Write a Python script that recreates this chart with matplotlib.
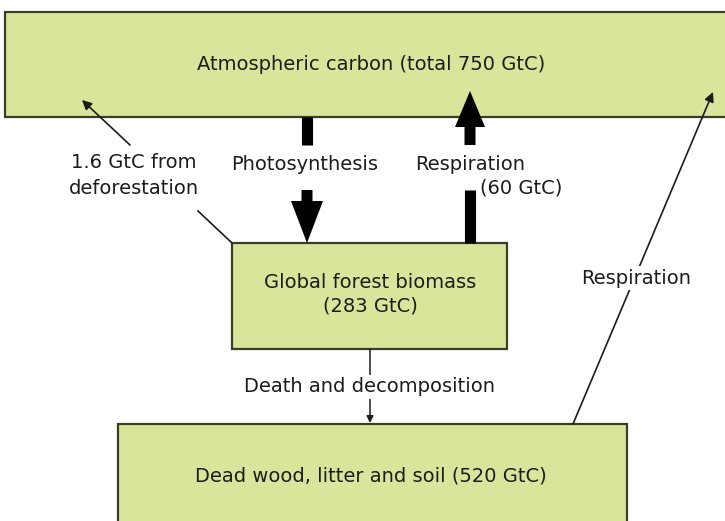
import matplotlib.pyplot as plt
from matplotlib.patches import Rectangle

# Carbon pools and fluxes (GtC)
pool_names = ["Atmospheric carbon", "Global forest biomass", "Dead wood, litter and soil"]
pool_gtc = [750, 283, 520]
flow_names = ["Photosynthesis", "Respiration", "Death and decomposition", "Respiration"]
resp_gtc = 60
deforest_gtc = 1.6

FILL = "#d9e59a"
EDGE = "#3a3d2c"
INK = "#1c1c1c"
FS = 14

plt.rcParams['font.family'] = ['DejaVu Sans']

fig = plt.figure(figsize=(7.25, 5.21), dpi=100)
ax = fig.add_axes([0, 0, 1, 1])
ax.set_xlim(0, 725)
ax.set_ylim(521, 0)
ax.axis('off')

def box(x0, y0, x1, y1):
    ax.add_patch(Rectangle((x0, y0), x1 - x0, y1 - y0, facecolor=FILL,
                           edgecolor=EDGE, lw=1.6, zorder=1))

def label(x, y, s, bg=False, **kw):
    t = ax.text(x, y, s, ha='center', va='center', fontsize=FS, color=INK,
                zorder=5, **kw)
    if bg:
        t.set_bbox(dict(facecolor='white', edgecolor='none', pad=2))
    return t

# boxes
box(5, 12, 740, 117)
box(232, 243, 507, 349)
box(118, 424, 627, 540)

label(371, 65, f"{pool_names[0]} (total {pool_gtc[0]} GtC)")
label(370, 283, pool_names[1])
label(370, 306, f"({pool_gtc[1]} GtC)")
label(371, 476, f"{pool_names[2]} ({pool_gtc[2]} GtC)")

# photosynthesis: thick arrow down, broken by label
px = 307
ax.plot([px, px], [117, 145], color='black', lw=8, solid_capstyle='butt', zorder=3)
ax.arrow(px, 190, 0, 243 - 190, width=11, head_width=32, head_length=42,
         length_includes_head=True, fc='black', ec='none', zorder=3)
label(305, 165, flow_names[0])

# respiration: thick arrow up
rx = 470
ax.plot([rx, rx], [243, 190], color='black', lw=8, solid_capstyle='butt', zorder=3)
ax.arrow(rx, 145, 0, 91 - 145, width=11, head_width=30, head_length=36,
         length_includes_head=True, fc='black', ec='none', zorder=3)
label(470, 165, flow_names[1])
label(521, 188, f"({resp_gtc} GtC)")

# deforestation
ax.plot([198, 232], [211, 243], color=INK, lw=1.2, zorder=2)
ax.annotate("", xy=(82, 100), xytext=(130, 145),
            arrowprops=dict(arrowstyle='-|>', color=INK, lw=1.2,
                            mutation_scale=14, shrinkA=0, shrinkB=0), zorder=3)
label(134, 163, f"{deforest_gtc} GtC from")
label(134, 188, "deforestation")

# death and decomposition
ax.annotate("", xy=(370, 423), xytext=(370, 349),
            arrowprops=dict(arrowstyle='-|>', color=INK, lw=1.1,
                            mutation_scale=10, shrinkA=0, shrinkB=0), zorder=2)
label(370, 387, flow_names[2], bg=True)

# respiration from soil
ax.annotate("", xy=(713, 92), xytext=(573, 424),
            arrowprops=dict(arrowstyle='-|>', color=INK, lw=1.2,
                            mutation_scale=14, shrinkA=0, shrinkB=0), zorder=2)
label(636, 278, flow_names[3], bg=True)

fig.savefig("out.png", dpi=100)
